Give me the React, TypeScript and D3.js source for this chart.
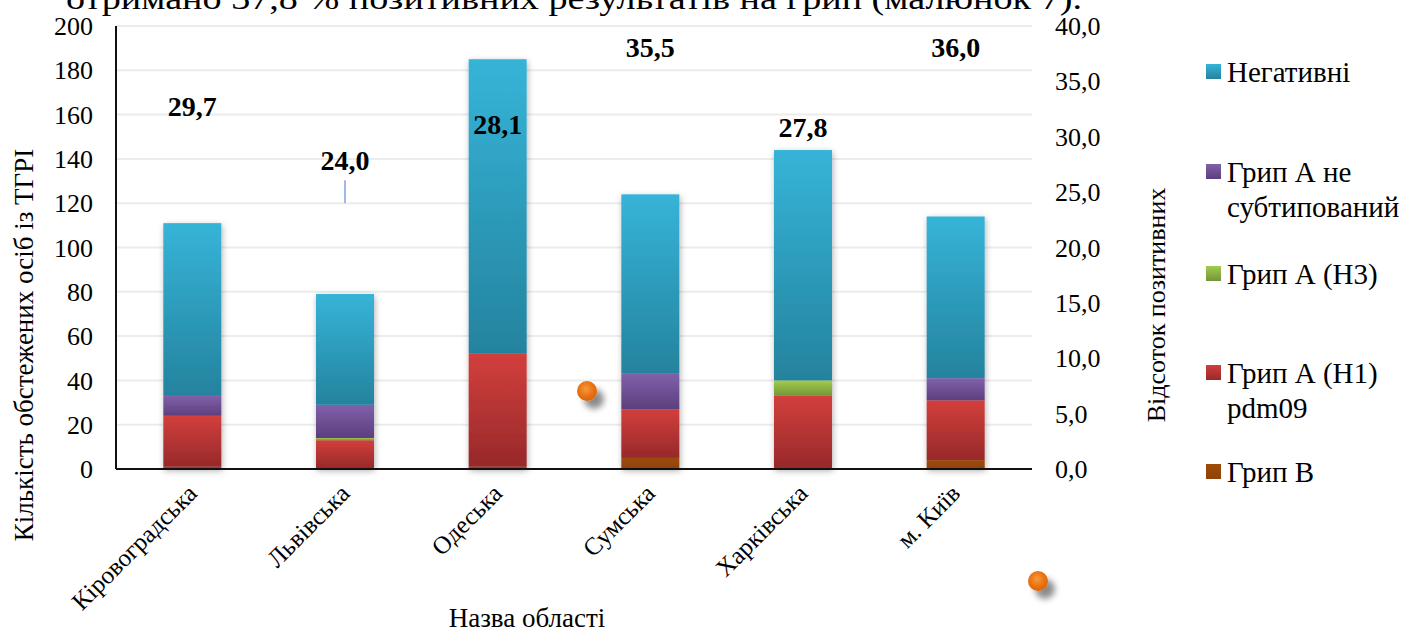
import { scaleBand, scaleLinear, stack } from "d3";

// --- data ---
const regions = ["Кіровоградська", "Львівська", "Одеська", "Сумська", "Харківська", "м. Київ"];
const grypB = [1, 0, 1, 5, 0, 4];
const grypH1 = [23, 13, 51, 22, 33, 27];
const grypH3 = [0, 1, 0, 0, 7, 0];
const grypNonSub = [9, 15, 0, 16, 0, 10];
const negative = [78, 50, 133, 81, 104, 73];
const positivePct = [29.7, 24.0, 28.1, 35.5, 27.8, 36.0];

const leftTicks = [0, 20, 40, 60, 80, 100, 120, 140, 160, 180, 200];
const rightTicks = [0, 5, 10, 15, 20, 25, 30, 35, 40];

const seriesKeys = ["b", "h1", "h3", "nonsub", "neg"];
const seriesNames: Record<string, string[]> = {
  neg: ["Негативні"],
  nonsub: ["Грип А не", "субтипований"],
  h3: ["Грип А (H3)"],
  h1: ["Грип А (H1)", "pdm09"],
  b: ["Грип В"],
};
const legendOrder = ["neg", "nonsub", "h3", "h1", "b"];
const colors: Record<string, [string, string]> = {
  neg: ["#36b4d8", "#24839e"],
  nonsub: ["#8160ab", "#5c3f7d"],
  h3: ["#a0cc4c", "#75953a"],
  h1: ["#d23f3c", "#97292a"],
  b: ["#9e4b09", "#8f4208"],
};

const W = 1406;
const H = 633;
const plot = { left: 116, right: 1032, top: 26, bottom: 469 };
const font = "Liberation Serif, Tinos, Times New Roman, Times, DejaVu Serif, serif";

const rows = regions.map((r, i) => ({
  region: r,
  b: grypB[i],
  h1: grypH1[i],
  h3: grypH3[i],
  nonsub: grypNonSub[i],
  neg: negative[i],
}));

const App = () => {
  const x = scaleBand<string>()
    .domain(regions)
    .range([plot.left, plot.right])
    .paddingInner(0.62)
    .paddingOuter(0.31);
  const y = scaleLinear().domain([0, 200]).range([plot.bottom, plot.top]);
  const yR = scaleLinear().domain([0, 40]).range([plot.bottom, plot.top]);

  const layers = stack<any>().keys(seriesKeys)(rows);

  return (
    <svg
      width={W}
      height={H}
      style={{ position: "absolute", left: 0, top: 0, background: "#fff", fontFamily: font }}
    >
      <defs>
        {seriesKeys.map((k) => (
          <linearGradient key={k} id={`g-${k}`} x1="0" y1="0" x2="0" y2="1">
            <stop offset="0%" stopColor={colors[k][0]} />
            <stop offset="100%" stopColor={colors[k][1]} />
          </linearGradient>
        ))}
        <filter id="shadow" x="-30%" y="-10%" width="160%" height="120%">
          <feDropShadow dx="1" dy="2" stdDeviation="3" floodColor="#000" floodOpacity="0.3" />
        </filter>
        <radialGradient id="dot" cx="45%" cy="40%" r="60%">
          <stop offset="0%" stopColor="#f39a45" />
          <stop offset="55%" stopColor="#ec7613" />
          <stop offset="100%" stopColor="#d9640a" />
        </radialGradient>
        <filter id="dotShadow" x="-50%" y="-50%" width="250%" height="250%">
          <feDropShadow dx="7" dy="8" stdDeviation="3" floodColor="#000" floodOpacity="0.45" />
        </filter>
      </defs>

      {/* text from the page above the chart, cut off */}
      <text x={66} y={9} fontSize={31} textLength={1016} lengthAdjust="spacingAndGlyphs">
        отримано 37,8 % позитивних результатів на грип (малюнок 7).
      </text>

      {/* grid */}
      {leftTicks.map((t) => (
        <line key={t} x1={plot.left} x2={plot.right} y1={y(t)} y2={y(t)} stroke="#ececec" strokeWidth={2} />
      ))}

      {/* bars */}
      {rows.map((row, i) => (
        <g key={row.region} filter="url(#shadow)">
          {layers.map((layer) => {
            const d = layer[i];
            if (d[1] - d[0] <= 0) return null;
            return (
              <rect
                key={layer.key}
                x={x(row.region)!}
                width={x.bandwidth()}
                y={y(d[1])}
                height={y(d[0]) - y(d[1])}
                fill={`url(#g-${layer.key})`}
              />
            );
          })}
        </g>
      ))}

      {/* axes */}
      <line x1={plot.left} x2={plot.left} y1={plot.top} y2={plot.bottom} stroke="#111" strokeWidth={2} />
      <line x1={plot.left} x2={plot.right} y1={plot.bottom} y2={plot.bottom} stroke="#111" strokeWidth={2} />

      {leftTicks.map((t) => (
        <text key={t} x={93} y={y(t)} dy="0.35em" textAnchor="end" fontSize={26}>
          {t}
        </text>
      ))}
      {rightTicks.map((t) => (
        <text key={t} x={1055} y={yR(t)} dy="0.35em" fontSize={26}>
          {t.toFixed(1).replace(".", ",")}
        </text>
      ))}

      {regions.map((r) => (
        <text
          key={r}
          transform={`translate(${x(r)! + x.bandwidth() / 2 + 6},${plot.bottom + 26}) rotate(-45)`}
          textAnchor="end"
          fontSize={25}
        >
          {r}
        </text>
      ))}

      {/* percent of positives: labels only, line hidden */}
      {positivePct.map((p, i) => {
        const cx = x(regions[i])! + x.bandwidth() / 2;
        const py = yR(p);
        const moved = i === 1;
        const ly = Math.max(py - (moved ? 43 : 34), plot.top + 21);
        return (
          <g key={i}>
            {moved && <line x1={cx} x2={cx} y1={py - 23} y2={py} stroke="#9dbbe3" strokeWidth={2} />}
            <text x={cx} y={ly} dy="0.35em" textAnchor="middle" fontSize={28} fontWeight="bold">
              {p.toFixed(1).replace(".", ",")}
            </text>
          </g>
        );
      })}

      {/* axis titles */}
      <text transform="translate(33,345) rotate(-90)" textAnchor="middle" fontSize={27}>
        Кількість обстежених осіб із ТГРІ
      </text>
      <text transform="translate(1165,305) rotate(-90)" textAnchor="middle" fontSize={26}>
        Відсоток позитивних
      </text>
      <text x={527} y={627} textAnchor="middle" fontSize={27}>
        Назва області
      </text>

      {/* legend */}
      {legendOrder.map((k, i) => {
        const cy = [72, 172, 274, 373, 472][i];
        return (
          <g key={k}>
            <rect x={1206} y={cy - 8} width={15} height={15} fill={`url(#g-${k})`} />
            {seriesNames[k].map((line, j) => (
              <text key={j} x={1227} y={cy + j * 35} dy="0.35em" fontSize={29}>
                {line}
              </text>
            ))}
          </g>
        );
      })}

      {/* stray markers in the picture */}
      <circle cx={587} cy={391} r={10} fill="url(#dot)" filter="url(#dotShadow)" />
      <circle cx={1038} cy={581} r={10} fill="url(#dot)" filter="url(#dotShadow)" />
    </svg>
  );
};

export default App;
